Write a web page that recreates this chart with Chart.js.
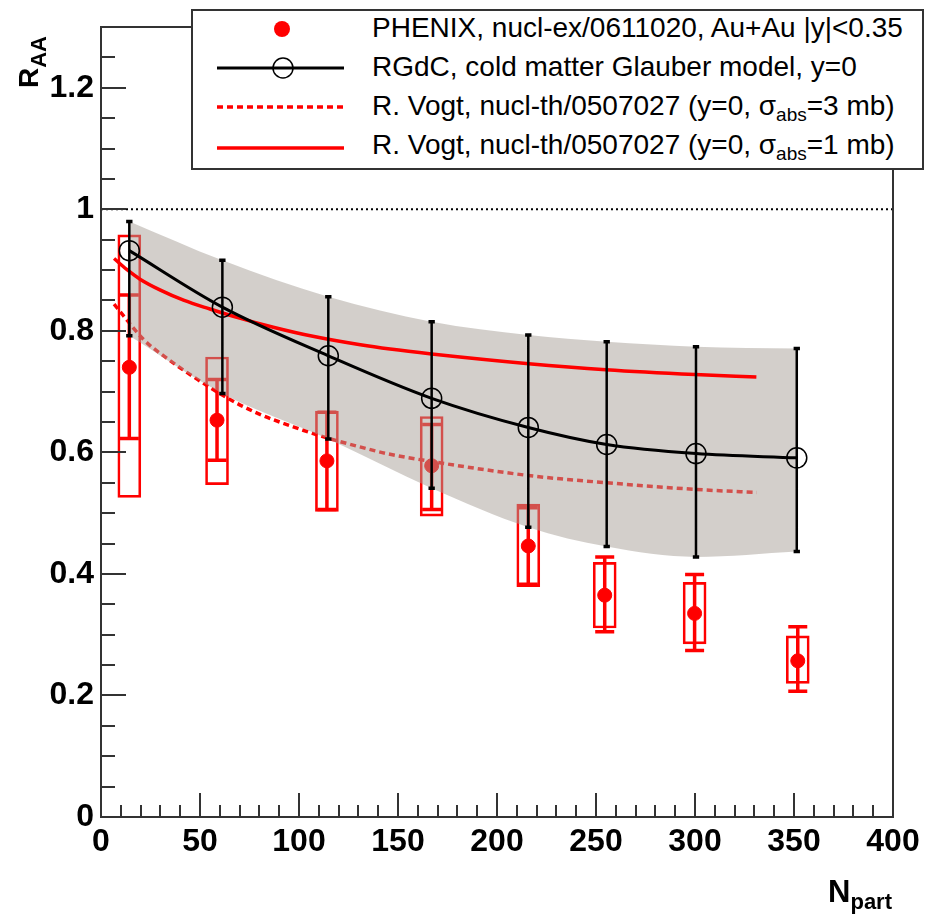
<!DOCTYPE html>
<html>
<head>
<meta charset="utf-8">
<script src="https://cdn.jsdelivr.net/npm/chart.js@4.4.1/dist/chart.umd.min.js"></script>
<style>
  html, body { margin: 0; padding: 0; background: #fff; }
  #wrap { position: relative; width: 940px; height: 917px; font-family: 'Liberation Sans', Arial, Helvetica, sans-serif; }
  #chart { position: absolute; left: 0; top: 0; }
  #legend {
    position: absolute; left: 191px; top: 9px; width: 733px; height: 161px;
    box-sizing: border-box; border: 2px solid #333; background: #fff;
  }
  #legend .row {
    position: absolute; left: 179px; height: 38px; line-height: 38px;
    font-size: 28px; white-space: nowrap; color: #000;
  }
  #legend sub { font-size: 19px; vertical-align: -6px; line-height: 0; }
  #legendSymbols { position: absolute; left: 0; top: 0; pointer-events: none; }
  #ytitle {
    position: absolute; left: 15px; top: 88px; transform-origin: 0 0; transform: rotate(-90deg);
    font-weight: bold; font-size: 28px; line-height: 28px; white-space: nowrap;
  }
  #ytitle sub { font-size: 22px; vertical-align: -8px; line-height: 0; }
  #xtitle {
    position: absolute; right: 48px; top: 876px;
    font-weight: bold; font-size: 31px; line-height: 31px; white-space: nowrap;
  }
  #xtitle sub { font-size: 22px; vertical-align: -7px; line-height: 0; }
</style>
</head>
<body>
<div id="wrap">
  <canvas id="chart" width="940" height="917"></canvas>

  <div id="ytitle">R<sub>AA</sub></div>
  <div id="xtitle">N<sub>part</sub></div>

  <div id="legend">
    <div class="row" style="top:-2px">PHENIX, nucl-ex/0611020, Au+Au |y|&lt;0.35</div>
    <div class="row" style="top:37px">RGdC, cold matter Glauber model, y=0</div>
    <div class="row" style="top:76px">R. Vogt, nucl-th/0507027 (y=0, &sigma;<sub>abs</sub>=3 mb)</div>
    <div class="row" style="top:115px">R. Vogt, nucl-th/0507027 (y=0, &sigma;<sub>abs</sub>=1 mb)</div>
  </div>
  <svg id="legendSymbols" width="940" height="180">
    <circle cx="282" cy="29" r="8" fill="#ff0000"/>
    <line x1="217" y1="68" x2="344" y2="68" stroke="#000" stroke-width="3"/>
    <circle cx="283" cy="68" r="10" fill="none" stroke="#000" stroke-width="1.5"/>
    <line x1="217" y1="107" x2="344" y2="107" stroke="#ff0000" stroke-width="3.5" stroke-dasharray="6 4"/>
    <line x1="217" y1="148" x2="344" y2="148" stroke="#ff0000" stroke-width="3.5"/>
  </svg>
</div>

<script>
// ── Axes ───────────────────────────────────────────────────────
const xTicks = [0, 50, 100, 150, 200, 250, 300, 350, 400];
const yTicks = [0, 0.2, 0.4, 0.6, 0.8, 1, 1.2];
const xMinorStep = 10;
const yMinorStep = 0.05;

// ── PHENIX Au+Au |y|<0.35 ──────────────────────────────────────
const phenixNpart  = [14.3, 58.6, 114.1, 167.0, 215.8, 254.4, 299.8, 351.9];
const phenixRaa    = [0.740, 0.653, 0.586, 0.578, 0.446, 0.365, 0.335, 0.257];
const phenixStatLo = [0.623, 0.587, 0.506, 0.506, 0.383, 0.305, 0.274, 0.207];
const phenixStatHi = [0.859, 0.720, 0.666, 0.646, 0.509, 0.428, 0.399, 0.313];
const phenixSysLo  = [0.526, 0.547, 0.503, 0.495, 0.379, 0.311, 0.285, 0.220];
const phenixSysHi  = [0.958, 0.757, 0.668, 0.659, 0.515, 0.419, 0.386, 0.298];

// ── RGdC cold matter Glauber model ─────────────────────────────
const glauberNpart = [14.3, 61.3, 114.8, 167.0, 215.8, 255.4, 300.5, 351.4];
const glauberRaa   = [0.932, 0.839, 0.759, 0.689, 0.641, 0.613, 0.598, 0.591];
const glauberLo    = [0.792, 0.697, 0.622, 0.541, 0.477, 0.445, 0.428, 0.437];
const glauberHi    = [0.980, 0.916, 0.856, 0.815, 0.793, 0.782, 0.774, 0.771];

// ── R. Vogt, sigma_abs = 3 mb ──────────────────────────────────
const vogt3Npart = [6.6, 11.3, 21.4, 33.2, 48.3, 63.5, 78.6, 97.1, 114.0, 130.8, 144.3, 167.0, 215.8, 255.4, 300.5, 331.2];
const vogt3Raa   = [0.844, 0.825, 0.786, 0.755, 0.721, 0.690, 0.665, 0.642, 0.624, 0.609, 0.598, 0.585, 0.562, 0.550, 0.539, 0.534];

// ── R. Vogt, sigma_abs = 1 mb ──────────────────────────────────
const vogt1Npart = [6.6, 13.0, 19.7, 30.0, 42.0, 55.0, 70.0, 87.0, 107.0, 131.0, 146.0, 167.0, 216.0, 255.0, 300.0, 331.0];
const vogt1Raa   = [0.919, 0.901, 0.885, 0.867, 0.850, 0.836, 0.821, 0.806, 0.791, 0.777, 0.770, 0.762, 0.746, 0.736, 0.728, 0.724];

const unityRaa = 1;

const RED = '#ff0000';
const BAND = 'rgba(168, 160, 152, 0.5)';
const FONT = "'Liberation Sans', Arial, Helvetica, sans-serif";

// ── Helpers ────────────────────────────────────────────────────
const xy = (xs, ys) => xs.map((x, i) => ({ x, y: ys[i] }));

// vertical error bar lines, separated by gaps
function errorBars(xs, lo, hi) {
  const pts = [];
  xs.forEach((x, i) => pts.push({ x, y: lo[i] }, { x, y: hi[i] }, { x, y: null }));
  return pts;
}

// horizontal caps at both ends of each bar
function errorCaps(xs, lo, hi, half) {
  const pts = [];
  xs.forEach((x, i) => {
    pts.push({ x: x - half, y: hi[i] }, { x: x + half, y: hi[i] }, { x, y: null });
    pts.push({ x: x - half, y: lo[i] }, { x: x + half, y: lo[i] }, { x, y: null });
  });
  return pts;
}

// ── Frame + inward ticks ───────────────────────────────────────
const frameTicks = {
  id: 'frameTicks',
  afterDatasetsDraw(chart) {
    const { ctx, chartArea: a, scales: { x, y } } = chart;
    const isMajor = (arr, v) => arr.some(t => Math.abs(t - v) < 1e-6);
    ctx.save();
    ctx.strokeStyle = '#333';
    ctx.lineWidth = 2;
    ctx.beginPath();
    for (let k = 0; k * xMinorStep <= x.max + 1e-9; k++) {
      const v = k * xMinorStep;
      const px = Math.round(x.getPixelForValue(v));
      ctx.moveTo(px, a.bottom);
      ctx.lineTo(px, a.bottom - (isMajor(xTicks, v) ? 24 : 12));
    }
    for (let k = 0; k * yMinorStep <= y.max + 1e-9; k++) {
      const v = +(k * yMinorStep).toFixed(3);
      const py = Math.round(y.getPixelForValue(v));
      ctx.moveTo(a.left, py);
      ctx.lineTo(a.left + (isMajor(yTicks, v) ? 25 : 14), py);
    }
    ctx.stroke();
    ctx.strokeRect(a.left, a.top, a.right - a.left, a.bottom - a.top);
    ctx.restore();
  }
};

// ── Chart ──────────────────────────────────────────────────────
const ctx = document.getElementById('chart').getContext('2d');
const tickFont = { family: FONT, size: 32, weight: 'bold' };
const plainNum = v => String(Math.round(v * 100) / 100);

new Chart(ctx, {
  type: 'line',
  data: {
    datasets: [
      // RGdC model: line + open circles (on top)
      {
        order: 1,
        data: xy(glauberNpart, glauberRaa),
        borderColor: '#000', borderWidth: 3,
        cubicInterpolationMode: 'monotone',
        pointRadius: 10, pointBorderWidth: 1.5,
        pointBorderColor: '#000', pointBackgroundColor: 'rgba(0,0,0,0)',
      },
      // RGdC error bars
      {
        order: 2,
        data: errorBars(glauberNpart, glauberLo, glauberHi),
        borderColor: '#000', borderWidth: 2.5, pointRadius: 0, spanGaps: false,
      },
      {
        order: 2,
        data: errorCaps(glauberNpart, glauberLo, glauberHi, 1.6),
        borderColor: '#000', borderWidth: 3.5, pointRadius: 0, spanGaps: false,
      },
      // Vogt 1 mb
      {
        order: 3,
        data: xy(vogt1Npart, vogt1Raa),
        borderColor: RED, borderWidth: 3.5, pointRadius: 0,
        cubicInterpolationMode: 'monotone',
      },
      // model uncertainty band (upper edge filled down to lower edge)
      {
        order: 4,
        data: xy(glauberNpart, glauberHi),
        borderWidth: 0, borderColor: 'rgba(0,0,0,0)', pointRadius: 0,
        cubicInterpolationMode: 'monotone',
        fill: '+1', backgroundColor: BAND,
      },
      {
        order: 4,
        data: xy(glauberNpart, glauberLo),
        borderWidth: 0, borderColor: 'rgba(0,0,0,0)', pointRadius: 0,
        cubicInterpolationMode: 'monotone',
      },
      // Vogt 3 mb (dashed, under band)
      {
        order: 5,
        data: xy(vogt3Npart, vogt3Raa),
        borderColor: RED, borderWidth: 3.5, borderDash: [6, 4], pointRadius: 0,
        cubicInterpolationMode: 'monotone',
      },
      // PHENIX points
      {
        order: 6,
        data: xy(phenixNpart, phenixRaa),
        showLine: false,
        pointRadius: 7, pointBorderWidth: 1,
        pointBackgroundColor: RED, pointBorderColor: RED,
      },
      // PHENIX statistical errors
      {
        order: 7,
        data: errorBars(phenixNpart, phenixStatLo, phenixStatHi),
        borderColor: RED, borderWidth: 3.5, pointRadius: 0, spanGaps: false,
      },
      {
        order: 7,
        data: errorCaps(phenixNpart, phenixStatLo, phenixStatHi, 4.8),
        borderColor: RED, borderWidth: 3.5, pointRadius: 0, spanGaps: false,
      },
      // PHENIX systematic boxes
      {
        type: 'bar',
        order: 8,
        data: phenixNpart.map((x, i) => ({ x, y: [phenixSysLo[i], phenixSysHi[i]] })),
        backgroundColor: 'rgba(0,0,0,0)', borderColor: RED, borderWidth: 2,
        borderSkipped: false, barThickness: 23,
      },
      // R_AA = 1 reference
      {
        order: 9,
        data: [{ x: xTicks[0], y: unityRaa }, { x: xTicks[xTicks.length - 1], y: unityRaa }],
        borderColor: '#000', borderWidth: 2, borderDash: [2, 3], pointRadius: 0,
      },
    ],
  },
  options: {
    responsive: false,
    animation: false,
    layout: { padding: { top: 27, right: 47, left: 0, bottom: 0 } },
    plugins: {
      legend: { display: false },
      tooltip: { enabled: false },
    },
    scales: {
      x: {
        type: 'linear', min: 0, max: 400, offset: false,
        grid: { display: false, drawTicks: false, tickLength: 0 },
        border: { display: false },
        afterBuildTicks: s => { s.ticks = xTicks.map(v => ({ value: v })); },
        afterFit: s => { s.height = 100; },
        ticks: { font: tickFont, color: '#000', padding: 6, maxRotation: 0, autoSkip: false, callback: plainNum },
      },
      y: {
        type: 'linear', min: 0, max: 1.3,
        grid: { display: false, drawTicks: false, tickLength: 0 },
        border: { display: false },
        afterBuildTicks: s => { s.ticks = yTicks.map(v => ({ value: v })); },
        afterFit: s => { s.width = 101; },
        ticks: { font: tickFont, color: '#000', padding: 7, autoSkip: false, callback: plainNum },
      },
    },
  },
  plugins: [frameTicks],
});
</script>
</body>
</html>
